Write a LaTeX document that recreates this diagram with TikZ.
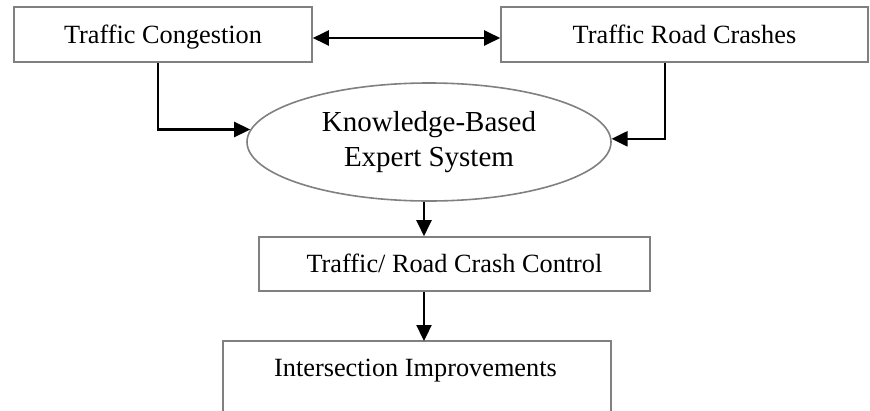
\documentclass[tikz,border=0pt]{standalone}
\usepackage{fontspec}
\setmainfont{Liberation Serif}
\usetikzlibrary{arrows.meta,shapes.geometric}
\begin{document}
\begin{tikzpicture}[x=1pt,y=-1pt,
  boxline/.style={draw=black!50, line width=1.6pt},
  rbox/.style={boxline, rectangle, inner sep=0pt, text height=19pt, text depth=1.6pt, font=\fontsize{26.3}{30}\selectfont},
  ebox/.style={boxline, ellipse, inner sep=0pt, minimum width=364pt, minimum height=118pt, font=\fontsize{29}{35}\selectfont},
  tip/.style={Triangle[length=16pt,width=15pt]},
  arr/.style={draw=black, line width=2.3pt, -{Triangle[length=16pt,width=15pt]}},
  darr/.style={draw=black, line width=2.3pt, {Triangle[length=16pt,width=15pt]}-{Triangle[length=16pt,width=15pt]}}]
\useasboundingbox (0,0) rectangle (870,410);
\fill[white] (0,0) rectangle (870,410);
\node[rbox, minimum width=298pt, minimum height=55pt] (tc) at (163,34.5) {Traffic Congestion};
\node[rbox, minimum width=367pt, minimum height=55pt] (trc) at (684.5,34.5) {Traffic Road Crashes};
\node[ebox] (kbes) at (429,142) {\raisebox{-3pt}{\begin{tabular}{@{}c@{}}Knowledge-Based\\Expert System\end{tabular}}};
\node[rbox, minimum width=391pt, minimum height=54pt] (ctrl) at (454.5,264) {Traffic/ Road Crash Control};
\node[font=\fontsize{26.3}{30}\selectfont, inner sep=0pt, text height=19pt, text depth=1.6pt] (ii) at (415.5,367.5) {Intersection Improvements};
\coordinate (iitl) at (223,341);
\coordinate (iitr) at (611,341);
\coordinate (iibl) at (223,412);
\coordinate (iibr) at (611,412);
\draw[boxline] (iibl) -- (iitl) -- (iitr) -- (iibr);
\coordinate (ax) at (424,0);
\draw[darr] ([yshift=-3.5pt]tc.east) -- ([yshift=-3.5pt]trc.west);
\draw[arr] ([xshift=-5pt]tc.south) |- (kbes.176);
\draw[arr] ([xshift=-19.5pt]trc.south) |- (kbes.1);
\draw[arr] (kbes.south -| ax) -- (ctrl.north -| ax);
\draw[arr] (ctrl.south -| ax) -- (iitl -| ax);
\end{tikzpicture}
\end{document}
